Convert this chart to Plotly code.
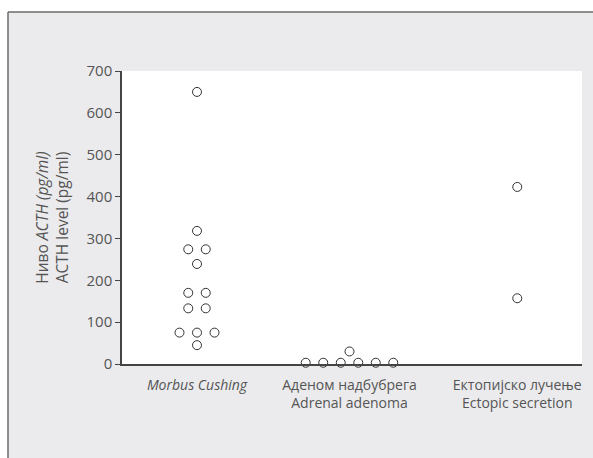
import plotly.graph_objects as go
from collections import defaultdict

# ---- data ----
categories = ["Morbus Cushing", "Adrenal adenoma", "Ectopic secretion"]
tick_labels = [
    "<i>Morbus Cushing</i>",
    "Аденом надбубрега<br>Adrenal adenoma",
    "Ектопијско лучење<br>Ectopic secretion",
]
morbus_cushing = [650, 318, 274, 274, 239, 170, 170, 133, 133, 75, 75, 75, 45]
adrenal_adenoma = [30, 3, 3, 3, 3, 3, 3]
ectopic_secretion = [423, 157]
series = [morbus_cushing, adrenal_adenoma, ectopic_secretion]

# ---- layout helpers ----
group_pos = [1.0, 2.0, 3.1]
step = 0.1148  # horizontal spacing between tied values


def swarm(values, center):
    groups = defaultdict(list)
    for i, v in enumerate(values):
        groups[v].append(i)
    xs = [center] * len(values)
    for v, idx in groups.items():
        n = len(idx)
        for k, i in enumerate(idx):
            xs[i] = center + (k - (n - 1) / 2) * step
    return xs


fig = go.Figure()
for vals, c, name in zip(series, group_pos, categories):
    fig.add_trace(go.Scatter(
        x=swarm(vals, c), y=vals, mode="markers", name=name,
        marker=dict(symbol="circle-open", size=9, color="#333333",
                    line=dict(width=1, color="#333333")),
        showlegend=False, cliponaxis=False,
    ))

# white outer strips and frame lines around the grey panel
fx = (8 - 122) / 460
fy = (364 - 12) / 293
fig.add_shape(type="rect", xref="paper", yref="paper", x0=-1, x1=fx, y0=-1, y1=2,
              fillcolor="white", line=dict(width=0), layer="above")
fig.add_shape(type="rect", xref="paper", yref="paper", x0=-1, x1=2, y0=fy, y1=2,
              fillcolor="white", line=dict(width=0), layer="above")
fig.add_shape(type="line", xref="paper", yref="paper", x0=fx, x1=fx, y0=-1, y1=fy,
              line=dict(color="#6b6b6b", width=1.5), layer="above")
fig.add_shape(type="line", xref="paper", yref="paper", x0=fx, x1=2, y0=fy, y1=fy,
              line=dict(color="#6b6b6b", width=1.5), layer="above")

fig.update_layout(
    width=593, height=458,
    margin=dict(l=122, r=11, t=71, b=94),
    paper_bgcolor="#EBEBED", plot_bgcolor="white",
    font=dict(family="Open Sans", size=14, color="#555555"),
    xaxis=dict(
        range=[1 - 75 / 152.5, 1 + 385 / 152.5],
        tickvals=group_pos, ticktext=tick_labels,
        tickfont=dict(size=14),
        showgrid=False, zeroline=False,
        showline=True, linecolor="#444444", linewidth=1.5,
        ticks="", ticklabelstandoff=7,
    ),
    yaxis=dict(
        range=[0, 700], dtick=100,
        tickfont=dict(size=15),
        showgrid=False, zeroline=False,
        showline=True, linecolor="#444444", linewidth=1.5,
        ticks="outside", ticklen=5, tickcolor="#444444", tickwidth=1,
        title=dict(text="Ниво <i>ACTH</i> <i>(pg/ml)</i><br>ACTH level (pg/ml)",
                   standoff=14, font=dict(size=15.5, color="#555555")),
    ),
)

fig.write_html("out.html")
